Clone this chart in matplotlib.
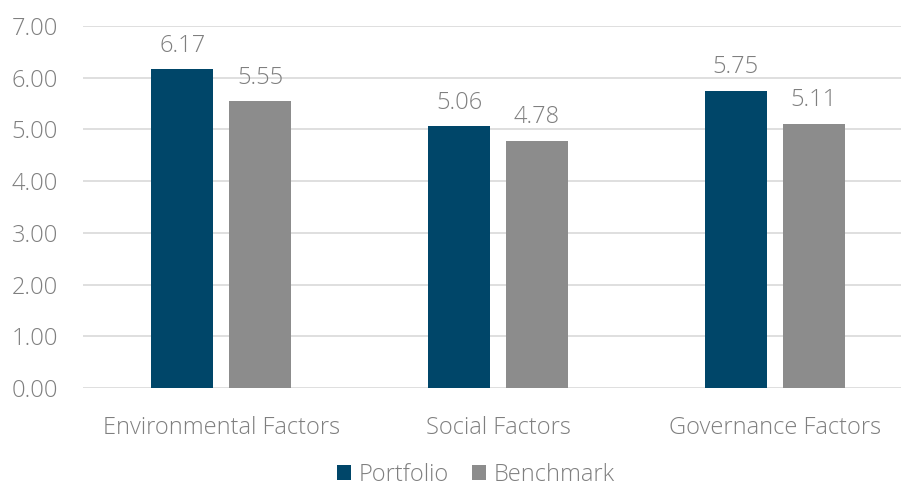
import numpy as np
import matplotlib.pyplot as plt

categories = ["Environmental Factors", "Social Factors", "Governance Factors"]
portfolio = [6.17, 5.06, 5.75]
benchmark = [5.55, 4.78, 5.11]
series_names = ["Portfolio", "Benchmark"]

plt.rcParams["font.family"] = ["Open Sans", "DejaVu Sans"]
plt.rcParams["font.weight"] = "light"

text_color = "#7f7f7f"
blue = "#004669"
grey = "#8c8c8c"

fig = plt.figure(figsize=(9.01, 4.88), dpi=100)
ax = fig.add_axes([83 / 901, 100 / 488, 830 / 901, 362 / 488])

x = np.arange(len(categories))
w = 0.224
off = 0.141
b1 = ax.bar(x - off, portfolio, w, color=blue, label=series_names[0], zorder=3)
b2 = ax.bar(x + off, benchmark, w, color=grey, label=series_names[1], zorder=3)

for bars in (b1, b2):
    for r in bars:
        ax.text(r.get_x() + r.get_width() / 2, r.get_height() + 0.22, f"{r.get_height():.2f}",
                ha="center", va="bottom", fontsize=17, color=text_color)

ax.set_xlim(-0.5, 2.5)
ax.set_ylim(0, 7)
ax.set_yticks(range(0, 8))
ax.set_yticklabels([f"{v:.2f}" for v in range(0, 8)])
ax.set_xticks(x)
ax.set_xticklabels(categories)
ax.tick_params(length=0, labelsize=17, colors=text_color)
ax.tick_params(axis="x", pad=20)
ax.tick_params(axis="y", pad=18)
ax.yaxis.grid(True, color="#d9d9d9", linewidth=1.2, zorder=0)
for s in ax.spines.values():
    s.set_visible(False)

leg = fig.legend(handles=[b1, b2], loc="center", bbox_to_anchor=(0.528, 0.027), ncol=2,
                 frameon=False, fontsize=17, handlelength=0.6, handleheight=0.6,
                 handletextpad=0.3, columnspacing=1.0, borderpad=0)
for t in leg.get_texts():
    t.set_color(text_color)

fig.savefig("out.png", dpi=100)
